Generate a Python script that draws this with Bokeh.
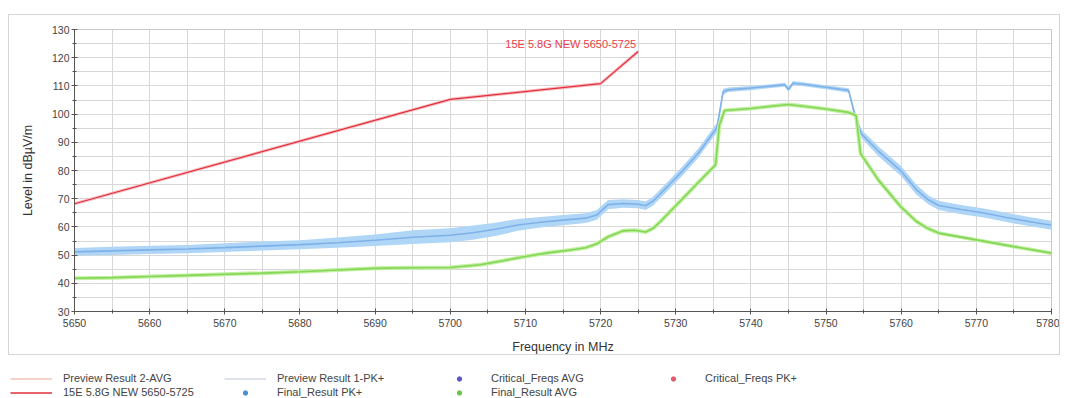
from bokeh.plotting import figure
from bokeh.models import Range1d, SingleIntervalTicker, Legend, LegendItem, Label
from bokeh.layouts import column
from bokeh.embed import file_html
from bokeh.resources import INLINE

# ---- data ----
lim_f = [5650, 5700, 5720, 5725]
lim_v = [68.2, 105.2, 110.8, 122.2]
lim_name = "15E 5.8G NEW 5650-5725"

pk_f = [5650, 5655, 5660, 5665, 5670, 5675, 5680, 5685, 5690, 5695, 5700, 5703, 5706, 5709,
        5712, 5715, 5718, 5719.5, 5721, 5723, 5725, 5726, 5727, 5729, 5731, 5733, 5734.5,
        5735.5, 5736.3, 5737, 5740, 5743, 5744.5, 5745, 5745.6, 5747, 5750, 5753, 5753.8,
        5754.7, 5757, 5760, 5762, 5763.6, 5765, 5768, 5771, 5774, 5777, 5780]
pk_lo = [49.8, 50.0, 50.4, 50.7, 51.1, 51.6, 52.1, 52.6, 53.2, 53.9, 54.6, 55.4, 56.8, 58.6,
         59.8, 60.6, 61.4, 62.5, 66.3, 66.8, 66.6, 66.0, 67.6, 73.0, 78.5, 84.5, 90.0,
         93.5, 106.8, 107.8, 108.5, 109.3, 109.7, 107.9, 110.2, 109.9, 108.8, 107.6, 98.5,
         91.5, 85.0, 78.0, 71.5, 68.0, 66.0, 64.5, 63.3, 61.7, 60.3, 59.0]
pk_hi = [52.5, 53.0, 53.3, 53.6, 54.2, 54.8, 55.3, 56.2, 57.3, 58.8, 59.5, 60.5, 61.5, 62.8,
         63.5, 64.2, 64.8, 66.0, 69.5, 69.8, 69.5, 69.0, 70.8, 76.2, 81.8, 87.8, 93.2,
         97.0, 109.0, 109.4, 110.0, 110.7, 111.1, 109.5, 111.7, 111.3, 110.2, 109.2, 101.5,
         94.5, 88.5, 81.5, 75.0, 71.2, 69.2, 67.8, 66.5, 65.0, 63.5, 62.2]

av_f = [5650, 5655, 5660, 5665, 5670, 5675, 5680, 5685, 5690, 5695, 5700, 5704, 5707, 5710,
        5713, 5716, 5718, 5719.5, 5721, 5723, 5724.5, 5726, 5727, 5728, 5730, 5732, 5734,
        5735.3, 5735.8, 5736.5, 5740, 5743, 5745, 5747, 5750, 5753, 5754, 5754.6, 5757,
        5760, 5762, 5763.5, 5765, 5770, 5775, 5780]
av_v = [41.8, 42.0, 42.4, 42.8, 43.2, 43.6, 44.1, 44.7, 45.3, 45.5, 45.6, 46.6, 48.0, 49.5,
        50.8, 51.8, 52.6, 54.0, 56.5, 58.6, 58.8, 58.2, 59.5, 62.0, 67.5, 73.0, 78.5,
        82.0, 96.0, 101.3, 102.0, 102.9, 103.4, 102.8, 101.8, 100.6, 99.5, 86.0, 76.5,
        67.0, 62.0, 59.5, 57.8, 55.4, 53.0, 50.7]

x_ticks_step = 10
y_ticks_step = 10
legend_names = ["Preview Result 2-AVG", lim_name, "Preview Result 1-PK+", "Final_Result PK+",
                "Critical_Freqs AVG", "Final_Result AVG", "Critical_Freqs PK+"]
no_point = [float("nan")]  # legend-only series have no visible points

FONT = "Liberation Sans"

p = figure(width=1052, height=341, output_backend="svg", toolbar_location=None, title=None,
           x_range=Range1d(5650, 5780), y_range=Range1d(30, 130),
           min_border_left=65, min_border_right=10, min_border_top=14, min_border_bottom=45,
           margin=(14, 0, 0, 8))
p.styles = {"border": "1px solid #d6d6d6", "box-sizing": "border-box"}
p.background_fill_color = "white"
p.border_fill_color = "white"
p.outline_line_color = "#c8c8c8"

# grids
for g in (p.xgrid, p.ygrid):
    g.ticker = SingleIntervalTicker(interval=5)
    g.grid_line_color = "#d8d8d8"
    g.grid_line_width = 1

# axes
p.xaxis.ticker = SingleIntervalTicker(interval=x_ticks_step, num_minor_ticks=2)
p.yaxis.ticker = SingleIntervalTicker(interval=y_ticks_step, num_minor_ticks=2)
for ax in (p.xaxis[0], p.yaxis[0]):
    ax.axis_line_color = "#555555"
    ax.major_tick_line_color = "#555555"
    ax.minor_tick_line_color = "#555555"
    ax.major_tick_in = 3
    ax.major_tick_out = 3
    ax.minor_tick_in = 2
    ax.minor_tick_out = 2
    ax.major_label_text_font = FONT
    ax.major_label_text_font_size = "10.5px"
    ax.major_label_text_color = "#444444"
    ax.axis_label_text_font = FONT
    ax.axis_label_text_font_size = "12.5px"
    ax.axis_label_text_font_style = "normal"
    ax.axis_label_text_color = "#333333"
p.xaxis.axis_label = "Frequency in MHz"
p.yaxis.axis_label = "Level in dB\u00b5V/m"
p.xaxis.major_label_standoff = 4
p.yaxis.major_label_standoff = 2
p.xaxis.axis_label_standoff = 10
p.yaxis.axis_label_standoff = 14

# preview PK+ (noisy band)
p.varea(x=pk_f, y1=pk_lo, y2=pk_hi, fill_color="#b0d6f7", fill_alpha=1.0)
pk_mid = [(a + b) / 2 for a, b in zip(pk_lo, pk_hi)]
p.line(pk_f, pk_mid, line_color="#7eb1e8", line_width=1.6)

# AVG
p.line(av_f, av_v, line_color="#c2f0a2", line_width=4)
p.line(av_f, av_v, line_color="#84d656", line_width=1.6)

# limit line
p.line(lim_f, lim_v, line_color="#f8bcc1", line_width=3.2)
p.line(lim_f, lim_v, line_color="#e0303c", line_width=1.2)

p.add_layout(Label(x=lim_f[-1], y=lim_v[-1], text=lim_name, text_align="right",
                   text_baseline="bottom", x_offset=-2, y_offset=1,
                   text_font=FONT, text_font_size="11px", text_color="#e8404a"))

# ---- legend strip ----
lg = figure(width=1068, height=43, output_backend="svg", toolbar_location=None, title=None,
            x_range=Range1d(0, 1), y_range=Range1d(0, 1),
            x_axis_location=None, y_axis_location=None,
            min_border_left=0, min_border_right=0, min_border_top=0, min_border_bottom=0,
            margin=(0, 0, 0, -65))
lg.xgrid.visible = False
lg.ygrid.visible = False
lg.outline_line_color = None
lg.background_fill_color = "white"
lg.border_fill_color = "white"

r_p2 = lg.line(no_point, no_point, line_color="#f0c4b8", line_width=1.5)
r_lim = lg.line(no_point, no_point, line_color="#e0303c", line_width=1.5)
r_p1 = lg.line(no_point, no_point, line_color="#d3d9e3", line_width=1.5)
r_fpk = lg.scatter(no_point, no_point, marker="circle", size=4, fill_color="#4a8fd8", line_color="#4a8fd8")
r_cav = lg.scatter(no_point, no_point, marker="circle", size=3, fill_color="#5858c8", line_color="#5858c8")
r_fav = lg.scatter(no_point, no_point, marker="circle", size=4, fill_color="#6cc44a", line_color="#6cc44a")
r_cpk = lg.scatter(no_point, no_point, marker="circle", size=3, fill_color="#e05a6a", line_color="#e05a6a")

rends = [r_p2, r_lim, r_p1, r_fpk, r_cav, r_fav, r_cpk]
items = [LegendItem(label=n, renderers=[r]) for n, r in zip(legend_names, rends)]
leg = Legend(items=items, orientation="vertical", nrows=2, location=(8, -2),
             glyph_width=42, glyph_height=11, label_height=11, label_width=159,
             label_standoff=11, spacing=2, padding=2, margin=0,
             label_text_font=FONT, label_text_font_size="11px", label_text_color="#444444",
             border_line_alpha=0, background_fill_alpha=0)
lg.add_layout(leg, "center")

layout = column(p, lg, spacing=0)
open("out.html", "w").write(file_html(layout, INLINE))
